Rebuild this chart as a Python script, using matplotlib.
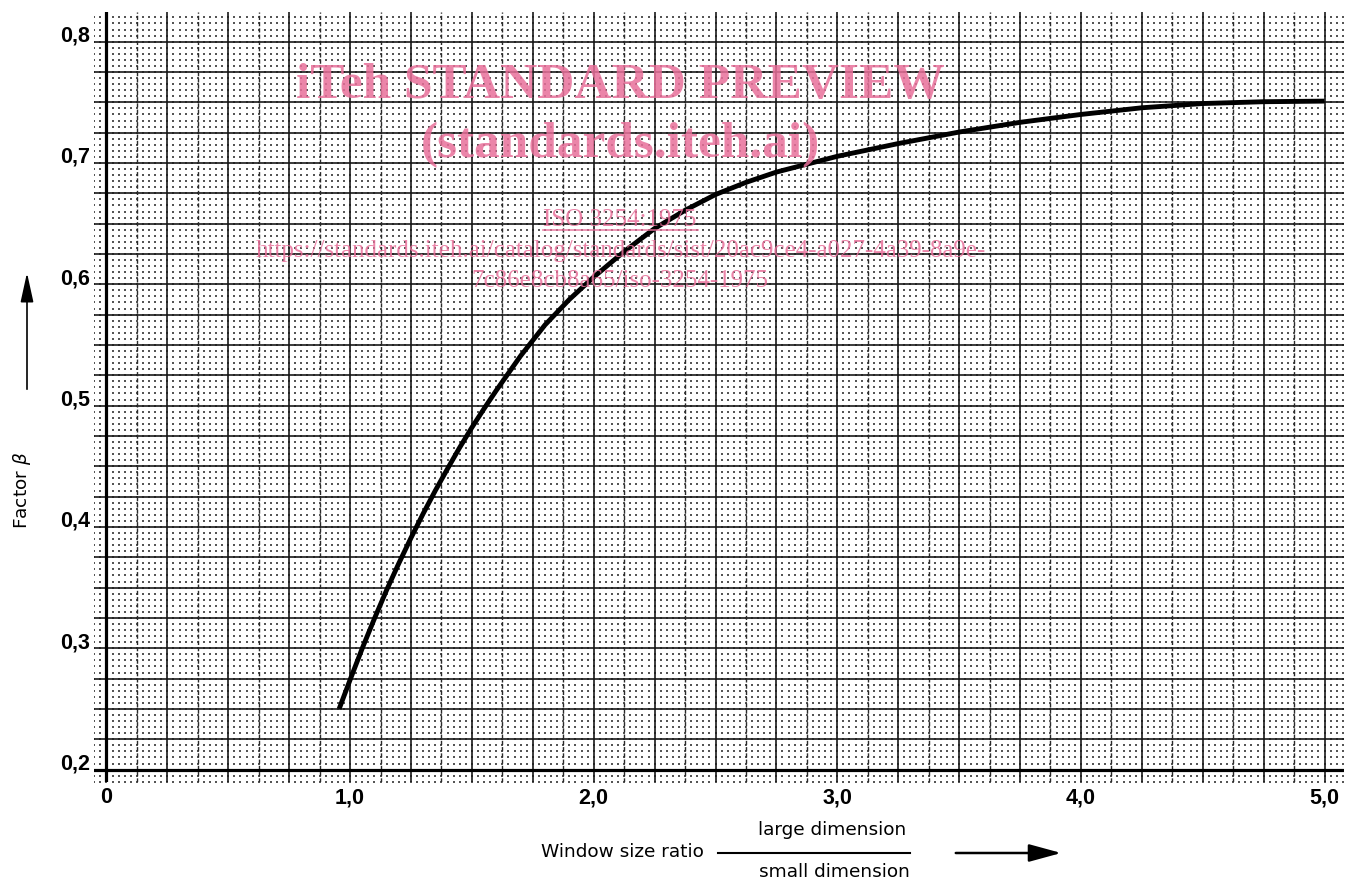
import numpy as np
import matplotlib
matplotlib.use("Agg")
import matplotlib.pyplot as plt
from matplotlib.patches import FancyArrowPatch
from matplotlib.lines import Line2D

# ---- data ----
ratio = [0.955, 1.00, 1.05, 1.10, 1.15, 1.20, 1.25, 1.30, 1.35, 1.40, 1.45, 1.50,
         1.55, 1.60, 1.70, 1.80, 1.90, 2.00, 2.125, 2.25, 2.375, 2.50, 2.625, 2.75,
         3.00, 3.25, 3.50, 3.75, 4.00, 4.25, 4.50, 4.75, 5.00]
beta = [0.250, 0.274, 0.300, 0.3245, 0.348, 0.370, 0.391, 0.411, 0.430, 0.448, 0.4655, 0.482,
        0.4975, 0.5125, 0.541, 0.5665, 0.5875, 0.606, 0.627, 0.646, 0.661, 0.674, 0.684, 0.6925,
        0.7055, 0.716, 0.7255, 0.7335, 0.7400, 0.7455, 0.7490, 0.7505, 0.7510]
x_ticks = [0, 1, 2, 3, 4, 5]
x_tick_labels = ["0", "1,0", "2,0", "3,0", "4,0", "5,0"]
y_ticks = [0.2, 0.3, 0.4, 0.5, 0.6, 0.7, 0.8]
y_tick_labels = ["0,2", "0,3", "0,4", "0,5", "0,6", "0,7", "0,8"]

W, H = 1347, 880
fig = plt.figure(figsize=(W / 100, H / 100), dpi=100)
fig.patch.set_facecolor("white")

def fx(x):
    return x / W

def fy(y):
    return 1 - y / H

ax_l, ax_r, ax_t, ax_b = 94, 1344, 11.7, 781.7
ax = fig.add_axes([fx(ax_l), fy(ax_b), (ax_r - ax_l) / W, (ax_b - ax_t) / H])
xmin, xmax = -0.0513, 5.080
ymin, ymax = 0.19, 0.8247
ax.set_xlim(xmin, xmax)
ax.set_ylim(ymin, ymax)
for s in ax.spines.values():
    s.set_visible(False)

# ---- graph paper ----
gx = np.arange(-0.05, 5.0801, 0.025)
gy = np.arange(0.19, 0.8251, 0.005)
GX, GY = np.meshgrid(gx, gy)
ax.scatter(GX.ravel(), GY.ravel(), s=1.1, marker="s", c="#555555", linewidths=0, zorder=1)

hl = [v for v in np.arange(0.175, 0.8251, 0.025) if abs(v - 0.2) > 1e-6]
ax.hlines(hl, xmin, xmax, colors="#1a1a1a", linewidth=1.2, zorder=2)
vl_solid = [v for v in np.arange(0.25, 5.001, 0.25)]
ax.vlines(vl_solid, ymin, ymax, colors="#1a1a1a", linewidth=1.2, zorder=2)
vl_dash = list(np.arange(0.125, 5.08, 0.25))
ax.vlines(vl_dash, ymin, ymax, colors="#2a2a2a", linewidth=1.0,
          linestyles=(0, (3, 1.5)), zorder=2)
# heavy axis lines
ax.axhline(0.2, color="black", linewidth=2.3, zorder=3)
ax.axvline(0.0, color="black", linewidth=2.3, zorder=3)

# ---- curve ----
ax.plot(ratio, beta, color="black", linewidth=3.5, solid_capstyle="butt",
        solid_joinstyle="round", zorder=5)

# ---- ticks ----
tick_font = dict(family="Liberation Sans", weight="bold", size=15.5)
ax.set_xticks(x_ticks, labels=x_tick_labels, **tick_font)
ax.set_yticks(y_ticks, labels=y_tick_labels, **tick_font)
ax.tick_params(axis="both", length=0)
ax.tick_params(axis="x", pad=4)
ax.tick_params(axis="y", pad=3)
for lab in ax.get_yticklabels():
    lab.set_verticalalignment("baseline")

# ---- axis titles ----
lab_font = dict(family="DejaVu Sans", size=13.3, color="black")
fig.text(fx(22), fy(490), "Factor $\\beta$", rotation=90, ha="center", va="center", **lab_font)
fig.add_artist(FancyArrowPatch((fx(27), fy(392)), (fx(27), fy(270)), transform=fig.transFigure,
                               arrowstyle="-|>,head_length=1.0,head_width=0.22",
                               mutation_scale=18, color="black", linewidth=1.2))

fig.text(fx(541), fy(852), "Window size ratio", ha="left", va="center", **lab_font)
fig.text(fx(832), fy(830), "large dimension", ha="center", va="center", **lab_font)
fig.text(fx(834), fy(872), "small dimension", ha="center", va="center", **lab_font)
fig.add_artist(Line2D([fx(718), fx(910)], [fy(853), fy(853)], transform=fig.transFigure,
                      color="black", linewidth=1.5))
fig.add_artist(FancyArrowPatch((fx(953), fy(853)), (fx(1064), fy(853)), transform=fig.transFigure,
                               arrowstyle="-|>,head_length=1.1,head_width=0.3",
                               mutation_scale=18, color="black", linewidth=1.8))

# ---- watermark ----
pink = "#e8709a"
wm = dict(family="Liberation Serif", color=pink, alpha=0.85, ha="center", va="baseline")
fig.text(fx(620), fy(98), "iTeh STANDARD PREVIEW", weight="bold", size=37, **wm)
fig.text(fx(620), fy(157), "(standards.iteh.ai)", weight="bold", size=37, **wm)
fig.text(fx(620), fy(226), "ISO 3254:1975", size=18, **wm)
fig.add_artist(Line2D([fx(543), fx(698)], [fy(230), fy(230)], transform=fig.transFigure,
                      color=pink, alpha=0.85, linewidth=1.2))
fig.text(fx(621), fy(257), "https://standards.iteh.ai/catalog/standards/sist/20ac9ce4-a027-4a39-8a9e-",
         size=18, **wm)
fig.text(fx(620), fy(287), "7c86e8cb8a65/iso-3254-1975", size=18, **wm)

fig.savefig("out.png", dpi=100, facecolor="white")
